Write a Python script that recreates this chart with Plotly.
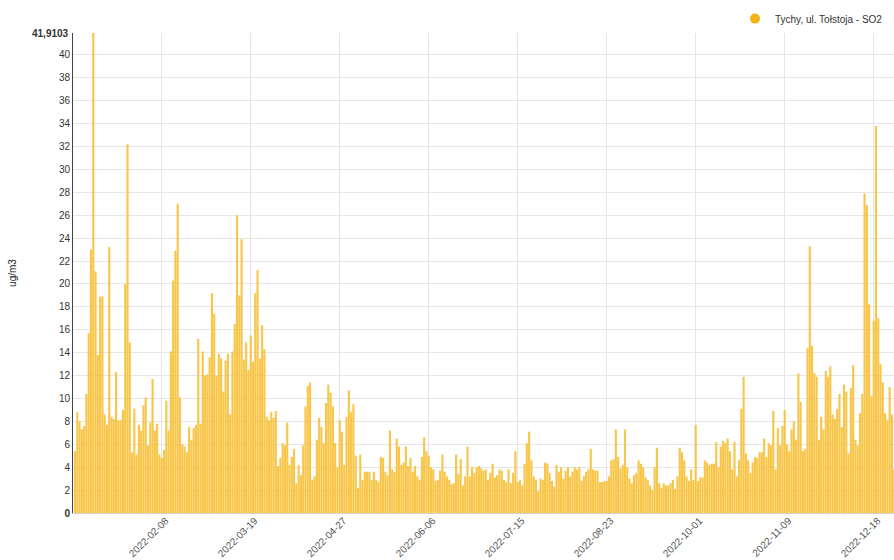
import pandas as pd
import plotly.graph_objects as go

series_name = "Tychy, ul. Tołstoja - SO2"
y_max = 41.9103

# daily values (ug/m3), by category index
jan_feb = [5.4, 8.8, 8.0, 7.3, 7.6, 10.4, 15.7, 23.0, 41.9103, 21.1, 13.8, 18.9, 18.9, 8.6, 7.7, 23.2,
           8.4, 8.2, 12.3, 8.1, 8.1, 9.0, 20.0, 32.2, 14.9, 5.3, 9.1, 5.1, 7.7, 7.2, 9.4]
part2 = [10.1, 5.9, 7.9, 11.7, 7.2, 7.8, 5.1, 4.8, 5.5, 9.8, 7.2, 14.1, 20.3, 22.9, 27.0, 10.1, 6.0,
         5.8, 5.3, 7.5, 6.4, 7.4, 7.7, 15.2, 7.8, 14.1, 12.0, 12.1, 13.6, 19.2, 17.4, 12.0, 13.9]
part3 = [13.5, 10.6, 13.3, 13.9, 8.6, 14.1, 16.5, 26.0, 19.0, 23.9, 13.4, 14.9, 12.5, 15.5, 13.2, 19.2,
         21.2, 13.5, 16.4, 14.3, 8.4, 8.1, 8.8, 8.3, 8.9, 4.1, 4.8, 6.1, 5.9, 7.9, 4.2, 4.9, 5.6]
part4 = [2.6, 4.2, 3.3, 5.9, 9.3, 11.1, 11.4, 2.9, 3.2, 6.4, 8.3, 7.5, 6.1, 9.6, 11.2, 10.5, 9.3, 6.1,
         4.0, 8.1, 7.1, 4.2, 8.4, 10.7, 8.8, 9.5, 5.0, 2.2, 5.1, 2.9, 3.6, 3.6, 3.6]
part5 = [2.9, 3.6, 2.9, 2.7, 4.9, 4.8, 3.6, 3.3, 7.2, 3.8, 3.6, 6.5, 5.8, 4.2, 4.4, 5.8, 4.1, 4.8, 3.6,
         4.1, 3.2, 2.9, 4.9, 6.6, 5.4, 5.0, 4.0, 3.8, 2.8, 2.9, 3.7, 5.1, 3.6]
part6 = [3.2, 2.9, 2.5, 2.6, 5.1, 3.4, 4.7, 2.4, 3.2, 5.8, 3.2, 4.0, 3.5, 4.0, 4.1, 3.9, 3.7, 3.8, 2.9,
         3.5, 4.3, 3.1, 3.3, 3.8, 3.7, 2.9, 2.7, 3.8, 2.6, 3.5, 5.4, 2.7, 2.9]
part7 = [2.4, 4.3, 6.1, 7.1, 4.6, 3.2, 2.9, 1.9, 3.0, 2.9, 4.4, 4.3, 3.5, 2.8, 2.3, 4.2, 3.6, 4.0, 3.0,
         3.7, 4.0, 3.2, 3.6, 4.0, 3.8, 4.0, 2.8, 3.2, 3.6, 3.8, 5.6, 3.8, 3.7]
part8 = [3.7, 2.7, 2.7, 2.8, 2.8, 3.2, 4.6, 4.7, 7.3, 4.9, 3.9, 4.2, 7.3, 4.0, 3.0, 2.6, 3.3, 3.5, 4.6,
         4.3, 4.0, 3.1, 2.9, 2.4, 2.0, 4.0, 5.7, 2.6, 2.2, 2.6, 2.4, 2.4, 2.6]
part9 = [2.9, 2.1, 3.2, 5.7, 5.3, 4.6, 3.2, 2.8, 3.8, 2.9, 7.7, 2.8, 3.1, 3.1, 4.6, 4.4, 4.2, 4.3, 4.3,
         6.2, 4.0, 5.8, 6.3, 6.1, 6.5, 5.4, 3.8, 6.2, 3.2, 4.6, 9.1, 11.9, 5.2]
part10 = [4.6, 3.5, 4.4, 4.9, 4.8, 5.3, 5.3, 6.5, 4.9, 6.1, 5.9, 8.9, 3.8, 7.4, 5.9, 7.6, 9.0, 6.0, 5.4,
          7.3, 8.0, 6.4, 12.2, 9.7, 5.4, 5.6, 14.4, 23.3, 14.6, 12.2, 11.9, 6.4, 8.4]
part11 = [7.3, 12.4, 11.9, 12.8, 8.6, 8.2, 9.1, 10.4, 7.5, 11.2, 10.6, 5.2, 10.9, 12.9, 6.4, 5.9, 8.7,
          10.4, 27.9, 26.9, 18.2, 10.2, 16.8, 33.8, 17.0, 13.0, 11.4, 8.7, 8.1, 11.0, 8.6, 3.8]

values = (jan_feb + part2 + part3 + part4 + part5 + part6 + part7 + part8 + part9 + part10 + part11)

missing_day = "2022-05-20"
all_days = [d.strftime("%Y-%m-%d") for d in pd.date_range("2022-01-01", "2022-12-31")]
dates = [d for d in all_days if d != missing_day][:len(values)]

tick_labels = ["2022-02-08", "2022-03-19", "2022-04-27", "2022-06-06", "2022-07-15",
               "2022-08-23", "2022-10-01", "2022-11-09", "2022-12-18"]
y_ticks = list(range(0, 41, 2))

FONT = "Liberation Sans, Arial, Helvetica, sans-serif"

fig = go.Figure()
fig.add_trace(go.Bar(
    x=dates, y=values, name=series_name, showlegend=False,
    marker=dict(color="rgba(246,193,60,0.92)", line=dict(width=0)),
))
fig.add_trace(go.Scatter(
    x=[None], y=[None], mode="markers", name=series_name,
    marker=dict(symbol="circle", size=10, color="#F4B41A"),
))

fig.update_layout(
    width=894, height=560,
    margin=dict(l=73, r=0, t=33, b=47, autoexpand=False),
    paper_bgcolor="white", plot_bgcolor="white",
    font=dict(family=FONT, size=10, color="#333"),
    bargap=0.06,
    legend=dict(x=0.9927, xanchor="right", y=1.03, yanchor="middle",
                orientation="h", font=dict(size=10, color="#333"),
                bgcolor="rgba(0,0,0,0)", itemwidth=30),
    xaxis=dict(
        type="category", range=[-0.88, 358.9],
        tickmode="array", tickvals=tick_labels, ticktext=tick_labels,
        tickangle=-45, tickfont=dict(size=10, color="#555"),
        ticklabelshift=4, ticklabelstandoff=-3,
        showgrid=True, gridcolor="#e6e6e6", gridwidth=1,
        ticks="", showline=True, linecolor="#d0d0d0", automargin=False,
    ),
    yaxis=dict(
        range=[0, y_max], tickmode="array", tickvals=y_ticks,
        ticktext=["<b>0</b>"] + [str(v) for v in y_ticks[1:]],
        tickfont=dict(size=10, color="#333"),
        showgrid=True, gridcolor="#e6e6e6", gridwidth=1,
        showline=True, linecolor="#444", linewidth=1,
        zeroline=False, automargin=False,
        title=dict(text="ug/m3", standoff=40, font=dict(size=10, color="#222")),
    ),
)
fig.add_annotation(
    x=0, xref="paper", y=y_max, yref="y", xanchor="right", yanchor="middle",
    xshift=-2, text="<b>41,9103</b>", showarrow=False,
    font=dict(size=10, color="#333", family=FONT),
)

fig.write_html(
    "out.html",
    config={"displayModeBar": False},
    post_script="document.body.style.margin='0';document.body.style.padding='0';",
)
